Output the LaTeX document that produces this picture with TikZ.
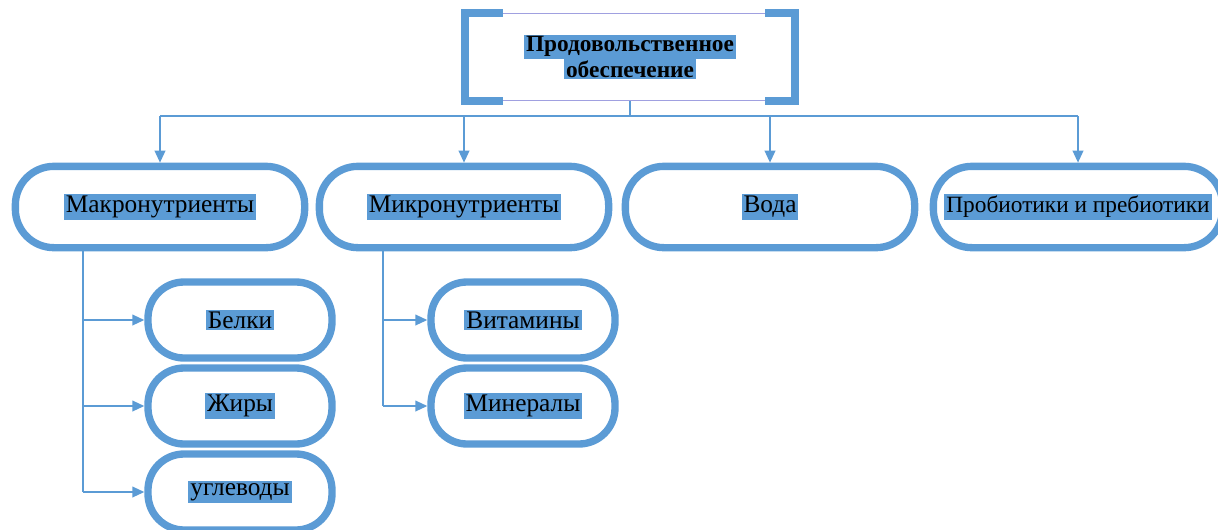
\documentclass[tikz,border=0pt]{standalone}
\usepackage{fontspec}
\setmainfont{Liberation Serif}
\usetikzlibrary{arrows.meta,positioning}
\definecolor{officeblue}{HTML}{5B9BD5}
\definecolor{lavender}{HTML}{A0A0E0}
\setlength{\fboxsep}{1.5pt}
\newcommand{\glow}[1]{\colorbox{officeblue}{#1}}

\begin{document}
\begin{tikzpicture}[x=0.75pt, y=-0.75pt,
  stadium/.style={draw=officeblue, line width=5.5pt, fill=white, rounded corners=29pt,
    minimum width=217pt, minimum height=61pt, font=\fontsize{19}{22}\selectfont},
  substadium/.style={stadium, minimum width=138pt, minimum height=57pt, rounded corners=27pt},
  bracket/.style={draw=officeblue, line width=6pt},
  link/.style={draw=officeblue, line width=1.3pt},
  arrow/.style={link, -{Triangle[length=9pt, width=8pt]}}]
\useasboundingbox (0,0) rectangle (1218,529);
\clip (0,0) rectangle (1218,529);
% top
\node[draw=lavender, line width=1pt, minimum width=250pt, minimum height=65pt,
  align=center, font=\fontsize{17.5}{21}\selectfont\bfseries] (food) at (630,57)
  {\glow{Продовольственное}\\[-2pt]\glow{обеспечение}};
\draw[bracket] ([xshift=30pt]food.north west) -- ([xshift=2pt]food.north west)
  -- ([xshift=2pt]food.south west) -- ([xshift=30pt]food.south west);
\draw[bracket] ([xshift=-24pt]food.north east) -- ([xshift=-2pt]food.north east)
  -- ([xshift=-2pt]food.south east) -- ([xshift=-24pt]food.south east);
% first level
\node[stadium] (macro) at (160,207) {\glow{Макронутриенты}};
\node[stadium] (micro) at (464,207) {\glow{Микронутриенты}};
\node[stadium] (water) at (770,207) {\glow{Вода}};
\node[stadium, font=\fontsize{17.5}{21}\selectfont] (probio) at (1078,207)
  {\glow{Пробиотики и пребиотики}};
\coordinate (bus) at (630,116);
\draw[link] (food.south) -- (bus);
\draw[link] (bus -| macro) -- (bus -| probio);
\foreach \n in {macro,micro,water,probio}
  \draw[arrow] (bus -| \n) -- (\n.north);
% second level
\node[substadium] (protein) at (240,320) {\glow{Белки}};
\node[substadium] (fat) at (240,406) {\glow{Жиры}};
\node[substadium] (carbs) at (240,492) {\glow{углеводы}};
\node[substadium] (vitamins) at (523,320) {\glow{Витамины}};
\node[substadium] (minerals) at (523,406) {\glow{Минералы}};
\coordinate (macrotrunk) at (macro.south -| 83,0);
\coordinate (microtrunk) at (micro.south -| 383,0);
\draw[link] (macrotrunk) -- (macrotrunk |- carbs.west);
\draw[link] (microtrunk) -- (microtrunk |- minerals.west);
\foreach \n in {protein,fat,carbs}
  \draw[arrow] (macrotrunk |- \n.west) -- (\n.west);
\foreach \n in {vitamins,minerals}
  \draw[arrow] (microtrunk |- \n.west) -- (\n.west);
\end{tikzpicture}
\end{document}
